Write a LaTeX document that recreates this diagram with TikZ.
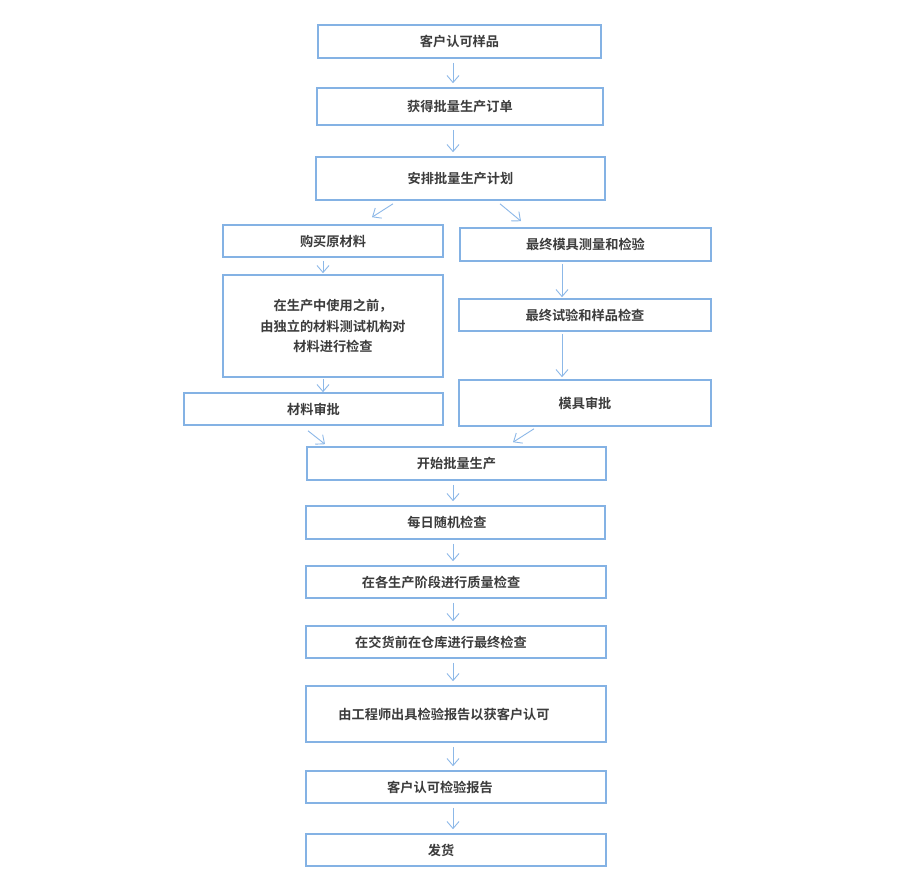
\documentclass[tikz,border=0pt]{standalone}
\usepackage{fontspec}
\setmainfont{Noto Sans CJK SC Bold}
\usetikzlibrary{arrows.meta,calc}
\definecolor{boxblue}{RGB}{132,178,228}
\definecolor{arrblue}{RGB}{140,184,232}
\definecolor{txt}{RGB}{60,60,60}
\begin{document}
\begin{tikzpicture}[x=1pt,y=-1pt,
  box/.style={draw=boxblue,line width=1.6pt,fill=white,inner sep=0pt,align=center,
    text=txt,font=\fontsize{13.2}{20.5}\selectfont},
  arr/.style={draw=arrblue,line width=0.9pt,-{Straight Barb[length=7pt,width=12pt]}},
  vshort/.style={shorten <=4pt,shorten >=4pt}]
\useasboundingbox[fill=white] (0,0) rectangle (900,895);
\coordinate (ax) at (453,0);
\coordinate (lx) at (323,0);
\coordinate (rx) at (562,0);
\node[box,minimum width=283pt,minimum height=33pt] (b1) at (459.5,41.5) {客户认可样品};
\node[box,minimum width=286pt,minimum height=37pt] (b2) at (460,106.5) {获得批量生产订单};
\node[box,minimum width=289pt,minimum height=43pt] (b3) at (460.5,178.5) {安排批量生产计划};
\node[box,minimum width=220pt,minimum height=32pt] (b4) at (333,241) {购买原材料};
\node[box,minimum width=251pt,minimum height=33pt] (b5) at (585.5,244.5) {最终模具测量和检验};
\node[box,minimum width=220pt,minimum height=102pt] (b6) at (333,326) {在生产中使用之前，\\由独立的材料测试机构对\\材料进行检查};
\node[box,minimum width=252pt,minimum height=32pt] (b7) at (585,315) {最终试验和样品检查};
\node[box,minimum width=259pt,minimum height=32pt] (b8) at (313.5,409) {材料审批};
\node[box,minimum width=252pt,minimum height=46pt] (b9) at (585,403) {模具审批};
\node[box,minimum width=299pt,minimum height=33pt] (b10) at (456.5,463.5) {开始批量生产};
\node[box,minimum width=299pt,minimum height=33pt] (b11) at (455.5,522.5) {每日随机检查\hspace{17pt}};
\node[box,minimum width=300pt,minimum height=32pt] (b12) at (456,582) {在各生产阶段进行质量检查\hspace{30pt}};
\node[box,minimum width=300pt,minimum height=32pt] (b13) at (456,642) {在交货前在仓库进行最终检查\hspace{30pt}};
\node[box,minimum width=300pt,minimum height=56pt] (b14) at (456,714) {由工程师出具检验报告以获客户认可\hspace{24pt}};
\node[box,minimum width=300pt,minimum height=32pt] (b15) at (456,787) {客户认可检验报告\hspace{32pt}};
\node[box,minimum width=300pt,minimum height=32pt] (b16) at (456,850) {发货\hspace{30pt}};
% central vertical arrows
\draw[arr,vshort] (b1.south -| ax) -- (b2.north -| ax);
\draw[arr,vshort] (b2.south -| ax) -- (b3.north -| ax);
\draw[arr,vshort] (b10.south -| ax) -- (b11.north -| ax);
\draw[arr,vshort] (b11.south -| ax) -- (b12.north -| ax);
\draw[arr,vshort] (b12.south -| ax) -- (b13.north -| ax);
\draw[arr,vshort] (b13.south -| ax) -- (b14.north -| ax);
\draw[arr,vshort] (b14.south -| ax) -- (b15.north -| ax);
\draw[arr,vshort] (b15.south -| ax) -- (b16.north -| ax);
% branch arrows
\draw[arr] ($(b3.south)+(-67.5,3)$) -- ($(b4.north)+(39,-7)$);
\draw[arr] ($(b3.south)+(39.5,3)$) -- ($(b5.north)+(-64.5,-6)$);
\draw[arr,shorten <=3pt,shorten >=1pt] (b4.south -| lx) -- (b6.north -| lx);
\draw[arr,shorten <=1pt,shorten >=0pt] (b6.south -| lx) -- (b8.north -| lx);
\draw[arr,shorten <=2pt,shorten >=1pt] (b5.south -| rx) -- (b7.north -| rx);
\draw[arr,shorten <=2pt,shorten >=2pt] (b7.south -| rx) -- (b9.north -| rx);
\draw[arr] ($(b8.south)+(-5.5,5)$) -- ($(b10.north)+(-131.5,-2)$);
\draw[arr] ($(b9.south)+(-51,2)$) -- ($(b10.north)+(56.5,-4)$);
\end{tikzpicture}
\end{document}
